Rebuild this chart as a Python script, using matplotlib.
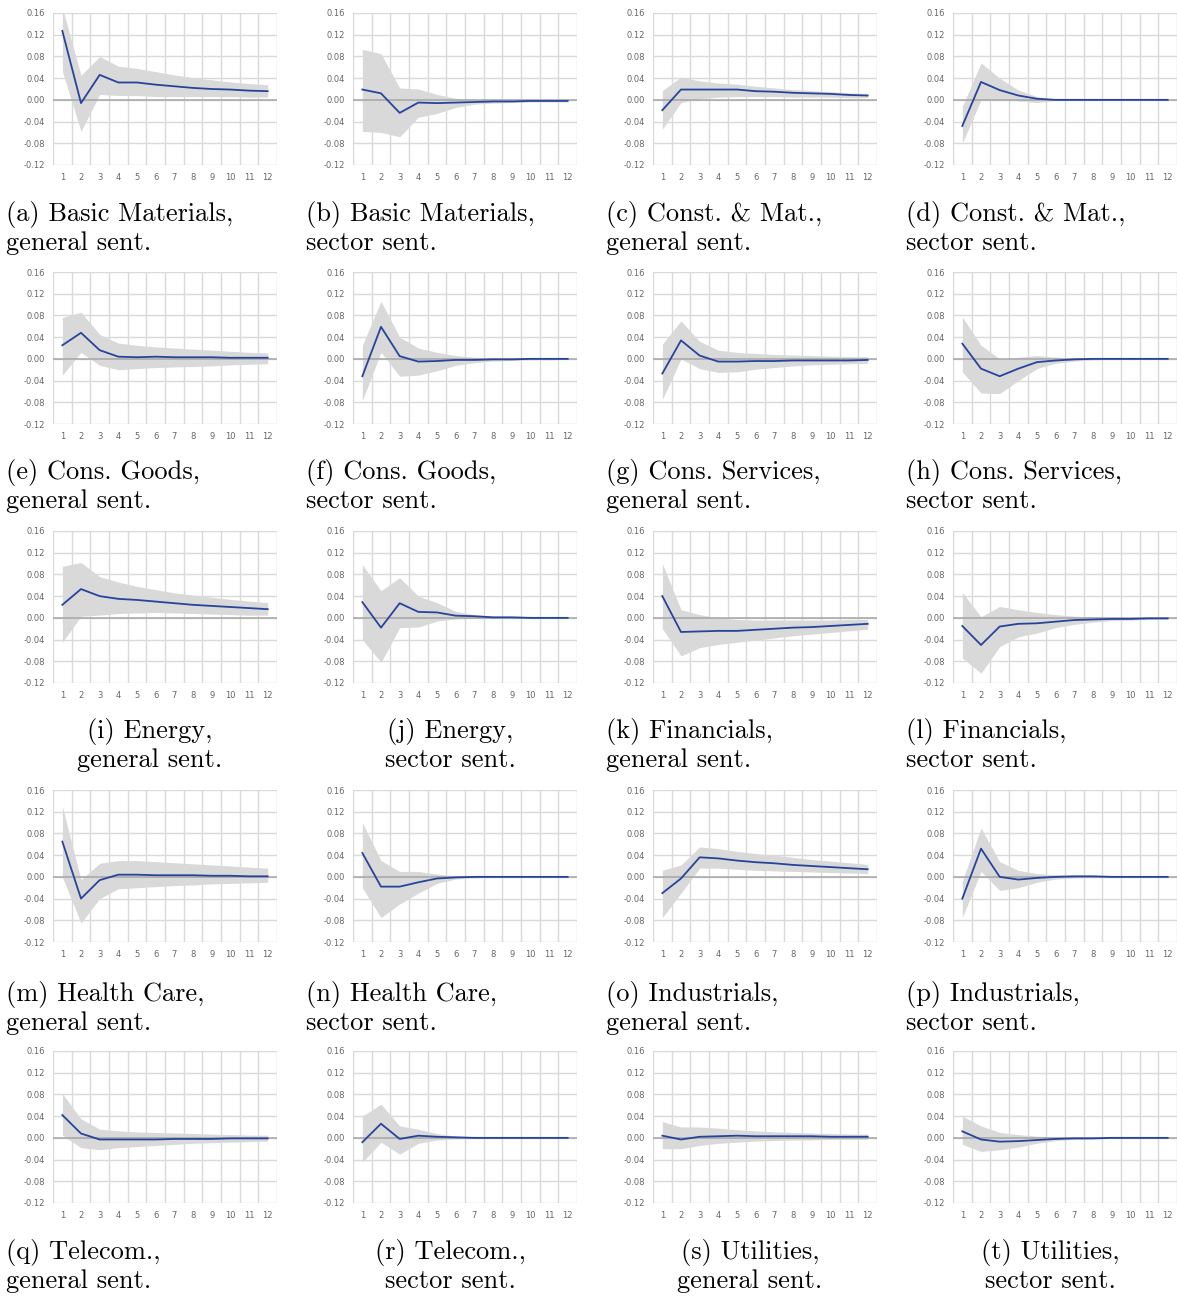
import numpy as np
import matplotlib
matplotlib.use("Agg")
import matplotlib.pyplot as plt

horizons = list(range(1, 13))
ytick_vals = [-0.12, -0.08, -0.04, 0.00, 0.04, 0.08, 0.12, 0.16]
ytick_labels = ["-0.12", "-0.08", "-0.04", "0.00", "0.04", "0.08", "0.12", "0.16"]

captions = [
    "(a) Basic Materials,\ngeneral sent.", "(b) Basic Materials,\nsector sent.",
    "(c) Const. & Mat.,\ngeneral sent.", "(d) Const. & Mat.,\nsector sent.",
    "(e) Cons. Goods,\ngeneral sent.", "(f) Cons. Goods,\nsector sent.",
    "(g) Cons. Services,\ngeneral sent.", "(h) Cons. Services,\nsector sent.",
    "(i) Energy,\ngeneral sent.", "(j) Energy,\nsector sent.",
    "(k) Financials,\ngeneral sent.", "(l) Financials,\nsector sent.",
    "(m) Health Care,\ngeneral sent.", "(n) Health Care,\nsector sent.",
    "(o) Industrials,\ngeneral sent.", "(p) Industrials,\nsector sent.",
    "(q) Telecom.,\ngeneral sent.", "(r) Telecom.,\nsector sent.",
    "(s) Utilities,\ngeneral sent.", "(t) Utilities,\nsector sent.",
]
centered = ["i", "j", "r", "s", "t"]

# impulse response (mid) and band (upper / lower), one set per panel
mid_a = [0.127, -0.006, 0.046, 0.032, 0.032, 0.028, 0.025, 0.022, 0.020, 0.019, 0.017, 0.016]
up_a = [0.17, 0.045, 0.080, 0.062, 0.058, 0.052, 0.046, 0.041, 0.037, 0.033, 0.030, 0.028]
lo_a = [0.053, -0.058, 0.010, 0.008, 0.008, 0.006, 0.006, 0.006, 0.006, 0.006, 0.005, 0.005]

mid_b = [0.019, 0.012, -0.024, -0.005, -0.006, -0.005, -0.004, -0.003, -0.003, -0.002, -0.002, -0.002]
up_b = [0.093, 0.085, 0.022, 0.020, 0.010, 0.003, 0.001, 0.000, 0.000, 0.000, 0.000, 0.000]
lo_b = [-0.058, -0.060, -0.068, -0.032, -0.025, -0.014, -0.008, -0.006, -0.005, -0.004, -0.004, -0.004]

mid_c = [-0.019, 0.019, 0.019, 0.019, 0.019, 0.016, 0.015, 0.013, 0.012, 0.011, 0.009, 0.008]
up_c = [0.017, 0.042, 0.035, 0.031, 0.029, 0.025, 0.022, 0.019, 0.017, 0.015, 0.013, 0.012]
lo_c = [-0.054, -0.005, 0.002, 0.005, 0.006, 0.006, 0.006, 0.005, 0.005, 0.005, 0.004, 0.004]

mid_d = [-0.048, 0.033, 0.018, 0.008, 0.002, 0.000, 0.000, 0.000, 0.000, 0.000, 0.000, 0.000]
up_d = [-0.012, 0.068, 0.040, 0.018, 0.006, 0.001, 0.001, 0.001, 0.001, 0.001, 0.001, 0.001]
lo_d = [-0.080, 0.000, 0.000, -0.002, -0.005, -0.001, -0.001, -0.001, -0.001, -0.001, -0.001, -0.001]

mid_e = [0.025, 0.048, 0.016, 0.004, 0.003, 0.004, 0.003, 0.003, 0.003, 0.002, 0.002, 0.002]
up_e = [0.076, 0.086, 0.045, 0.029, 0.025, 0.022, 0.020, 0.018, 0.016, 0.014, 0.012, 0.011]
lo_e = [-0.030, 0.012, -0.012, -0.020, -0.018, -0.016, -0.015, -0.014, -0.013, -0.011, -0.010, -0.009]

mid_f = [-0.032, 0.059, 0.005, -0.005, -0.004, -0.002, -0.002, -0.001, -0.001, 0.000, 0.000, 0.000]
up_f = [0.025, 0.106, 0.040, 0.020, 0.012, 0.006, 0.003, 0.002, 0.002, 0.002, 0.001, 0.001]
lo_f = [-0.077, 0.012, -0.032, -0.030, -0.022, -0.012, -0.007, -0.004, -0.003, -0.002, -0.002, -0.001]

mid_g = [-0.027, 0.034, 0.006, -0.005, -0.005, -0.004, -0.004, -0.003, -0.003, -0.003, -0.003, -0.002]
up_g = [0.027, 0.070, 0.032, 0.016, 0.012, 0.010, 0.008, 0.007, 0.006, 0.005, 0.004, 0.004]
lo_g = [-0.075, 0.000, -0.018, -0.025, -0.024, -0.019, -0.016, -0.013, -0.011, -0.010, -0.009, -0.008]

mid_h = [0.028, -0.018, -0.032, -0.018, -0.006, -0.003, -0.001, 0.000, 0.000, 0.000, 0.000, 0.000]
up_h = [0.077, 0.025, 0.000, 0.003, 0.006, 0.003, 0.002, 0.001, 0.001, 0.001, 0.001, 0.001]
lo_h = [-0.024, -0.063, -0.064, -0.040, -0.018, -0.008, -0.004, -0.002, -0.001, -0.001, -0.001, -0.001]

mid_i = [0.024, 0.053, 0.040, 0.035, 0.033, 0.030, 0.027, 0.024, 0.022, 0.020, 0.018, 0.016]
up_i = [0.095, 0.102, 0.076, 0.066, 0.058, 0.052, 0.046, 0.042, 0.038, 0.034, 0.031, 0.028]
lo_i = [-0.045, 0.003, 0.005, 0.008, 0.009, 0.010, 0.009, 0.008, 0.007, 0.006, 0.005, 0.005]

mid_j = [0.029, -0.018, 0.027, 0.011, 0.010, 0.004, 0.003, 0.001, 0.001, 0.000, 0.000, 0.000]
up_j = [0.098, 0.050, 0.074, 0.040, 0.028, 0.012, 0.006, 0.003, 0.002, 0.001, 0.001, 0.001]
lo_j = [-0.040, -0.082, -0.018, -0.017, -0.006, -0.002, -0.001, -0.001, -0.001, -0.001, -0.001, -0.001]

mid_k = [0.040, -0.026, -0.025, -0.024, -0.024, -0.022, -0.020, -0.018, -0.017, -0.015, -0.013, -0.011]
up_k = [0.100, 0.015, 0.006, 0.000, -0.003, -0.004, -0.004, -0.004, -0.004, -0.004, -0.003, -0.003]
lo_k = [-0.020, -0.070, -0.055, -0.049, -0.045, -0.041, -0.037, -0.033, -0.030, -0.027, -0.024, -0.021]

mid_l = [-0.015, -0.050, -0.016, -0.011, -0.010, -0.007, -0.004, -0.003, -0.002, -0.002, -0.001, -0.001]
up_l = [0.047, 0.002, 0.021, 0.015, 0.010, 0.006, 0.003, 0.002, 0.001, 0.001, 0.001, 0.000]
lo_l = [-0.074, -0.102, -0.053, -0.035, -0.028, -0.018, -0.012, -0.008, -0.005, -0.004, -0.003, -0.002]

mid_m = [0.065, -0.040, -0.006, 0.004, 0.004, 0.003, 0.003, 0.003, 0.002, 0.002, 0.001, 0.001]
up_m = [0.130, -0.005, 0.025, 0.030, 0.030, 0.028, 0.026, 0.024, 0.022, 0.020, 0.018, 0.016]
lo_m = [0.000, -0.085, -0.040, -0.022, -0.020, -0.018, -0.016, -0.015, -0.013, -0.012, -0.011, -0.010]

mid_n = [0.044, -0.018, -0.018, -0.010, -0.003, -0.001, 0.000, 0.000, 0.000, 0.000, 0.000, 0.000]
up_n = [0.100, 0.030, 0.010, 0.010, 0.005, 0.002, 0.001, 0.000, 0.000, 0.000, 0.000, 0.000]
lo_n = [-0.020, -0.075, -0.050, -0.030, -0.012, -0.004, -0.002, -0.001, -0.001, -0.001, -0.001, -0.001]

mid_o = [-0.030, -0.003, 0.036, 0.034, 0.030, 0.027, 0.025, 0.022, 0.020, 0.018, 0.016, 0.014]
up_o = [0.012, 0.022, 0.055, 0.052, 0.047, 0.043, 0.040, 0.036, 0.032, 0.029, 0.026, 0.023]
lo_o = [-0.075, -0.030, 0.016, 0.016, 0.014, 0.012, 0.011, 0.010, 0.009, 0.008, 0.007, 0.006]

mid_p = [-0.040, 0.052, 0.000, -0.005, -0.002, 0.000, 0.001, 0.001, 0.000, 0.000, 0.000, 0.000]
up_p = [-0.008, 0.090, 0.028, 0.012, 0.006, 0.004, 0.003, 0.002, 0.002, 0.002, 0.001, 0.001]
lo_p = [-0.075, 0.010, -0.025, -0.020, -0.010, -0.004, -0.002, -0.001, -0.001, -0.001, -0.001, -0.001]

mid_q = [0.042, 0.008, -0.003, -0.003, -0.003, -0.003, -0.002, -0.002, -0.002, -0.001, -0.001, -0.001]
up_q = [0.082, 0.035, 0.016, 0.013, 0.011, 0.010, 0.009, 0.008, 0.007, 0.006, 0.005, 0.005]
lo_q = [0.005, -0.018, -0.022, -0.018, -0.016, -0.014, -0.012, -0.010, -0.009, -0.008, -0.007, -0.006]

mid_r = [-0.008, 0.026, -0.002, 0.004, 0.002, 0.001, 0.000, 0.000, 0.000, 0.000, 0.000, 0.000]
up_r = [0.040, 0.062, 0.022, 0.016, 0.008, 0.003, 0.001, 0.000, 0.000, 0.000, 0.000, 0.000]
lo_r = [-0.045, -0.008, -0.030, -0.010, -0.004, -0.002, -0.001, 0.000, 0.000, 0.000, 0.000, 0.000]

mid_s = [0.004, -0.003, 0.002, 0.003, 0.004, 0.003, 0.003, 0.003, 0.003, 0.002, 0.002, 0.002]
up_s = [0.030, 0.020, 0.020, 0.018, 0.015, 0.013, 0.011, 0.010, 0.009, 0.008, 0.007, 0.007]
lo_s = [-0.020, -0.020, -0.014, -0.010, -0.008, -0.006, -0.005, -0.004, -0.004, -0.003, -0.003, -0.003]

mid_t = [0.012, -0.003, -0.007, -0.006, -0.004, -0.002, -0.001, -0.001, 0.000, 0.000, 0.000, 0.000]
up_t = [0.040, 0.022, 0.010, 0.006, 0.003, 0.002, 0.001, 0.001, 0.001, 0.001, 0.001, 0.001]
lo_t = [-0.012, -0.025, -0.022, -0.017, -0.010, -0.005, -0.003, -0.002, -0.001, -0.001, -0.001, -0.001]

panels = [
    (mid_a, up_a, lo_a), (mid_b, up_b, lo_b), (mid_c, up_c, lo_c), (mid_d, up_d, lo_d),
    (mid_e, up_e, lo_e), (mid_f, up_f, lo_f), (mid_g, up_g, lo_g), (mid_h, up_h, lo_h),
    (mid_i, up_i, lo_i), (mid_j, up_j, lo_j), (mid_k, up_k, lo_k), (mid_l, up_l, lo_l),
    (mid_m, up_m, lo_m), (mid_n, up_n, lo_n), (mid_o, up_o, lo_o), (mid_p, up_p, lo_p),
    (mid_q, up_q, lo_q), (mid_r, up_r, lo_r), (mid_s, up_s, lo_s), (mid_t, up_t, lo_t),
]

W, H = 1177, 1297
fig = plt.figure(figsize=(W / 100, H / 100), dpi=100)

row_tops = [13, 272, 531, 790, 1051]
cap_tops = [201, 459, 718, 981, 1239]

for k, (mid, up, lo) in enumerate(panels):
    r, c = divmod(k, 4)
    left = 53 + 300 * c
    ax = fig.add_axes([left / W, 1 - (row_tops[r] + 152) / H, 224 / W, 152 / H])
    ax.set_xlim(0.5, 12.5)
    ax.set_ylim(-0.12, 0.16)
    for yv in ytick_vals:
        ax.axhline(yv, color="#d9d9d9", lw=1, zorder=0)
    for xv in np.arange(0.5, 13, 1.0):
        ax.axvline(xv, color="#d9d9d9", lw=1, zorder=0)
    ax.fill_between(horizons, lo, up, color="#d9d9d9", lw=0, zorder=1)
    ax.axhline(0, color="#a6a6a6", lw=1.1, zorder=2)
    ax.plot(horizons, mid, color="#27449c", lw=1.3, zorder=3)
    ax.set_yticks(ytick_vals)
    ax.set_yticklabels(ytick_labels)
    ax.set_xticks(horizons)
    ax.set_xticklabels([str(h) for h in horizons])
    ax.tick_params(length=0, labelsize=6, labelcolor="#666666", pad=6)
    for s in ax.spines.values():
        s.set_visible(False)

    letter = captions[k][1]
    if letter in centered:
        fig.text((150 + 300 * c) / W, 1 - cap_tops[r] / H, captions[k], ha="center", va="top",
                 multialignment="center", family="cmr10", fontsize=19, linespacing=1.2)
    else:
        fig.text((6 + 300 * c) / W, 1 - cap_tops[r] / H, captions[k], ha="left", va="top",
                 family="cmr10", fontsize=19, linespacing=1.2)

fig.savefig("out.png", dpi=100)
